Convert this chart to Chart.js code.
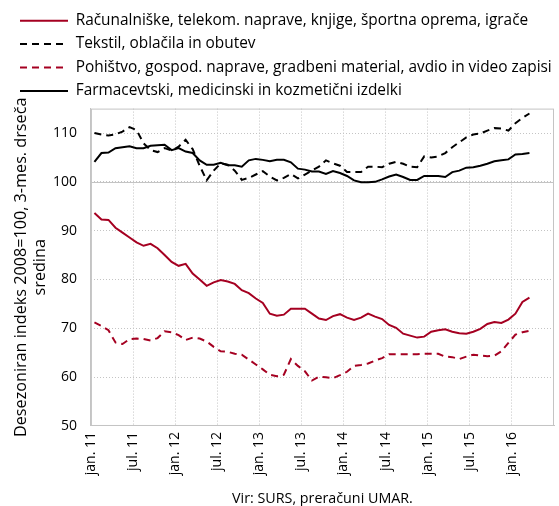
<!DOCTYPE html>
<html lang="sl">
<head>
<meta charset="utf-8">
<title>Trgovina na drobno</title>
<script src="https://cdn.jsdelivr.net/npm/chart.js@4.4.1/dist/chart.umd.min.js"></script>
<style>
  html, body { margin: 0; padding: 0; background: #fff; }
  #wrap { width: 559px; height: 506px; }
</style>
</head>
<body>
<div id="wrap"><canvas id="chart"></canvas></div>
<script>
// mesecni podatki jan. 2011 - jun. 2016 (66 mesecev, zadnji trije brez podatka)
var months = [];
['11','12','13','14','15','16'].forEach(function (y) {
  ['jan.','feb.','mar.','apr.','maj','jun.','jul.','avg.','sep.','okt.','nov.','dec.'].forEach(function (m) {
    months.push(m + ' ' + y);
  });
});
months = months.slice(0, 66);

var tickLabels = ['jan. 11','jul. 11','jan. 12','jul. 12','jan. 13','jul. 13','jan. 14','jul. 14','jan. 15','jul. 15','jan. 16'];

var racunalniske = [93.6,92.3,92.2,90.6,89.6,88.6,87.6,86.9,87.3,86.4,85.0,83.6,82.8,83.2,81.2,80.0,78.7,79.4,79.9,79.6,
  79.1,77.8,77.2,76.1,75.2,73.0,72.6,72.8,74.0,74.0,74.0,73.0,72.0,71.7,72.5,72.9,72.2,71.7,72.2,73.0,
  72.4,71.9,70.7,70.1,68.9,68.5,68.1,68.3,69.3,69.6,69.8,69.3,69.0,68.9,69.3,69.9,70.9,71.3,71.1,71.8,
  73.0,75.4,76.3];

var tekstil = [110.0,109.7,109.5,109.7,110.3,111.2,110.6,107.9,106.5,106.1,106.9,106.4,107.2,108.6,106.7,103.3,100.3,102.3,103.8,103.5,
  102.3,100.4,100.8,101.5,102.2,101.1,100.3,100.8,101.6,100.7,101.5,102.3,103.1,104.4,103.8,103.3,102.0,102.0,102.0,103.1,
  103.1,103.0,103.7,104.1,103.7,103.1,103.0,105.2,105.0,105.2,105.9,107.1,108.1,109.1,109.7,109.9,110.5,111.0,110.9,110.5,
  112.0,113.1,114.0];

var pohistvo = [71.2,70.5,69.6,67.1,66.8,67.8,67.9,67.8,67.5,68.0,69.4,69.2,68.6,67.6,68.1,67.9,67.3,66.2,65.3,65.2,
  64.8,64.6,63.6,62.6,61.6,60.5,60.2,60.5,63.7,62.3,61.2,59.3,60.1,60.0,59.8,60.4,61.1,62.3,62.5,62.8,
  63.4,63.9,64.7,64.7,64.7,64.7,64.7,64.8,64.8,64.8,64.2,64.1,63.7,64.2,64.6,64.4,64.3,64.4,65.3,67.0,
  68.7,69.2,69.5];

var farmacevtski = [104.1,105.9,106.0,106.9,107.1,107.3,106.9,106.9,107.4,107.5,107.6,106.5,106.9,106.2,105.9,104.4,103.5,103.5,103.9,103.4,
  103.4,103.1,104.4,104.7,104.5,104.2,104.5,104.5,104.0,102.7,102.5,102.1,102.1,101.6,102.2,101.8,101.2,100.3,99.9,99.9,
  100.0,100.5,101.1,101.5,101.0,100.4,100.4,101.2,101.2,101.2,101.0,102.0,102.3,102.9,103.0,103.3,103.7,104.2,104.4,104.6,
  105.6,105.7,105.9];

var seriesNames = [
  'Računalniške, telekom. naprave, knjige, športna oprema, igrače',
  'Tekstil, oblačila in obutev',
  'Pohištvo, gospod. naprave, gradbeni material, avdio in video zapisi',
  'Farmacevtski, medicinski in kozmetični izdelki'
];

var RED = '#a50021';
var GRID = '#c4c4c4';
var FONT = 'Open Sans';

// vsak mesec je svoj razdelek, tocka je na sredini razdelka
function toPoints(values) {
  return values.map(function (v, i) { return { x: i + 0.5, y: v }; });
}

// okvir grafa in polna crta pri 100
var frame = {
  id: 'frame',
  beforeDatasetsDraw: function (chart) {
    var ctx = chart.ctx, a = chart.chartArea, y = chart.scales.y;
    ctx.save();
    ctx.strokeStyle = GRID;
    ctx.lineWidth = 1;
    ctx.setLineDash([]);
    var y100 = Math.round(y.getPixelForValue(100)) + 0.5;
    ctx.beginPath();
    ctx.moveTo(a.left, y100);
    ctx.lineTo(a.right, y100);
    ctx.stroke();
    ctx.strokeRect(a.left + 0.5, a.top + 0.5, a.right - a.left - 1, a.bottom - a.top - 1);
    ctx.restore();
  }
};

new Chart(document.getElementById('chart'), {
  type: 'line',
  data: {
    datasets: [
      { label: seriesNames[0], data: toPoints(racunalniske), borderColor: RED, backgroundColor: RED, borderWidth: 2 },
      { label: seriesNames[1], data: toPoints(tekstil), borderColor: '#000', backgroundColor: '#000', borderWidth: 2, borderDash: [7, 5] },
      { label: seriesNames[2], data: toPoints(pohistvo), borderColor: RED, backgroundColor: RED, borderWidth: 2, borderDash: [7, 5] },
      { label: seriesNames[3], data: toPoints(farmacevtski), borderColor: '#000', backgroundColor: '#000', borderWidth: 2 }
    ]
  },
  options: {
    responsive: true,
    maintainAspectRatio: false,
    animation: false,
    layout: { padding: { left: 12, right: 5, top: 5, bottom: 0 } },
    elements: { point: { radius: 0 }, line: { tension: 0 } },
    plugins: {
      legend: {
        position: 'top',
        align: 'start',
        labels: {
          usePointStyle: true,
          pointStyle: 'line',
          pointStyleWidth: 48,
          padding: 8,
          color: '#000',
          font: { family: FONT, size: 15.4 },
          generateLabels: function (c) {
            var items = Chart.defaults.plugins.legend.labels.generateLabels(c);
            items.forEach(function (it) {
              var ds = c.data.datasets[it.datasetIndex];
              it.lineDash = ds.borderDash || [];
              it.lineWidth = ds.borderWidth;
              it.strokeStyle = ds.borderColor;
            });
            return items;
          }
        }
      },
      tooltip: { enabled: false }
    },
    scales: {
      x: {
        type: 'linear',
        min: 0,
        max: months.length,
        grid: { color: GRID, drawTicks: false },
        border: { color: GRID, dash: [1, 2] },
        ticks: {
          stepSize: 6,
          autoSkip: false,
          maxRotation: 90,
          minRotation: 90,
          padding: 6,
          color: '#000',
          font: { family: FONT, size: 14 },
          callback: function (v) { var t = tickLabels[v / 6]; return t === undefined ? null : t; }
        },
        title: {
          display: true,
          text: 'Vir: SURS, preračuni UMAR.',
          color: '#000',
          font: { family: FONT, size: 14.3, lineHeight: 1 },
          padding: { top: 10.5, bottom: 0 }
        }
      },
      y: {
        min: 50,
        max: 115,
        grid: { color: GRID, drawTicks: false },
        border: { color: GRID, dash: [1, 2] },
        ticks: {
          stepSize: 10,
          includeBounds: false,
          padding: 14,
          color: '#000',
          font: { family: FONT, size: 14 }
        },
        title: {
          display: true,
          text: ['Desezoniran indeks 2008=100, 3-mes. drseča', 'sredina'],
          color: '#000',
          font: { family: FONT, size: 16.2, lineHeight: 1.17 },
          padding: { top: 0, bottom: -11 }
        }
      }
    }
  },
  plugins: [frame]
});
</script>
</body>
</html>
